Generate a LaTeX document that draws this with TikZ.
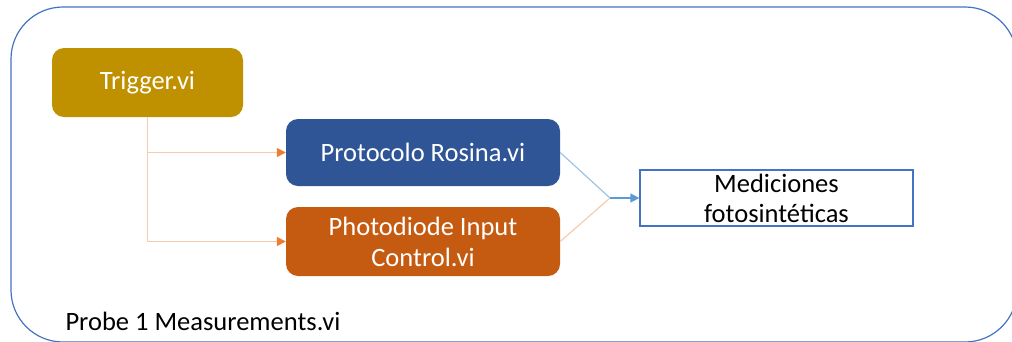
\documentclass[tikz,border=0pt]{standalone}
\usepackage{fontspec}
\setmainfont{Carlito}
\usetikzlibrary{arrows.meta}
\definecolor{gold}{HTML}{BF9000}
\definecolor{navy}{HTML}{2F5597}
\definecolor{rust}{HTML}{C55A11}
\definecolor{frame}{HTML}{4472C4}
\definecolor{peach}{HTML}{F8CBAD}
\definecolor{tangerine}{HTML}{ED7D31}
\definecolor{skyline}{HTML}{9DC3E6}
\definecolor{sky}{HTML}{5B9BD5}
\tikzset{
  vibox/.style={rounded corners=12pt, text=white, align=center,
    inner sep=0pt, font=\fontsize{26.5}{31}\selectfont},
  outbox/.style={draw=frame, line width=1.3pt, fill=white, align=center,
    inner sep=0pt, minimum width=273pt, minimum height=56pt,
    font=\fontsize{26.5}{30}\selectfont},
  feed/.style={draw=peach, line width=1.5pt,
    -{Triangle[length=9pt,width=9pt,color=tangerine]}},
}
\begin{document}
\begin{tikzpicture}[x=1pt,y=-1pt]
  \useasboundingbox (0,0) rectangle (1012,341);
  % enclosing VI frame
  \draw[frame, line width=1.2pt, rounded corners=52pt] (11,7) rectangle (1017,342);
  \node[anchor=base west, font=\fontsize{26.5}{30}\selectfont] (probe) at (62,330) {Probe 1 Measurements.vi};

  % sub-VIs
  \node[vibox, fill=gold, minimum width=191pt, minimum height=69pt] (trig) at (147.5,82.5) {Trigger.vi};
  \node[vibox, fill=navy, minimum width=274pt, minimum height=67pt] (prot) at (423,152.5) {Protocolo Rosina.vi};
  \node[vibox, fill=rust, minimum width=274pt, minimum height=69pt] (photo) at (423,241.5) {Photodiode Input\\Control.vi};
  \node[outbox] (meas) at (776.5,198) {Mediciones\\fotosintéticas};

  % trigger fan-out
  \coordinate (tb) at (trig.south |- prot.west);
  \coordinate (bb) at (trig.south |- photo.west);
  \draw[draw=peach, line width=1.5pt] (trig.south) -- (bb);
  \draw[feed] (tb) -- (prot.west);
  \draw[feed] (bb) -- (photo.west);

  % merge into measurements
  \coordinate (j) at (610,198);
  \draw[draw=skyline, line width=1.2pt] (prot.east) -- (j);
  \draw[draw=peach, line width=1.2pt] (photo.east) -- (j);
  \draw[draw=sky, line width=1.3pt, -{Triangle[length=9pt,width=9pt]}] (j) -- (meas.west);
\end{tikzpicture}
\end{document}
